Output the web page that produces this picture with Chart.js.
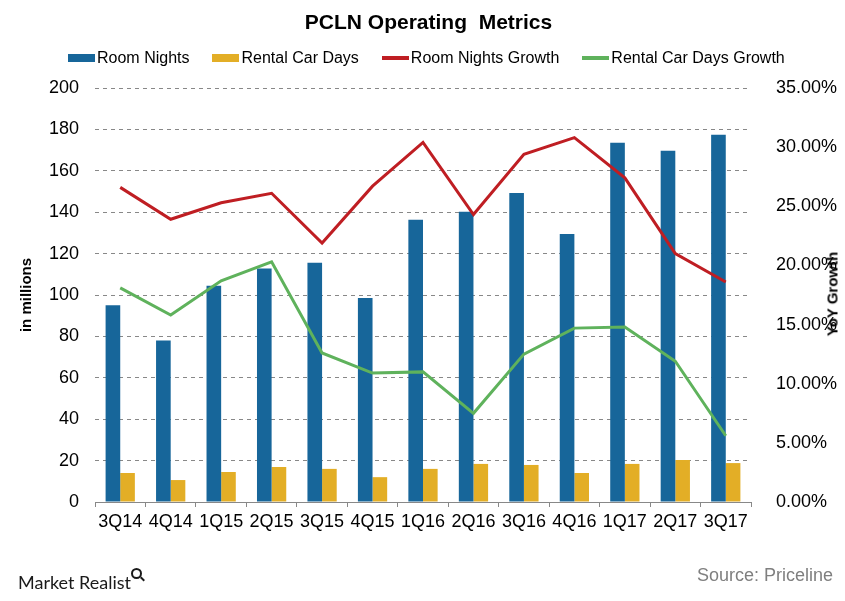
<!DOCTYPE html>
<html lang="en">
<head>
    <meta charset="UTF-8">
    <title>PCLN Operating Metrics</title>
    <script src="https://cdn.jsdelivr.net/npm/chart.js"></script>
    <style>
        body {
            margin: 0;
            background: white;
            font-family: "Liberation Sans", Arial, sans-serif;
        }
        .wrap {
            position: relative;
            width: 845px;
            height: 601px;
            overflow: hidden;
        }
        #chart {
            position: absolute;
            left: 0;
            top: 0;
        }
        .titulo {
            position: absolute;
            left: 0;
            top: 9px;
            width: 857px;
            text-align: center;
            font-size: 21px;
            line-height: 26px;
            font-weight: bold;
            white-space: pre;
        }
        .leyenda {
            position: absolute;
            left: 68px;
            top: 48px;
            display: flex;
            gap: 23px;
            font-size: 16px;
            line-height: 20px;
        }
        .leyenda span {
            display: flex;
            align-items: center;
            gap: 2px;
        }
        .leyenda i {
            display: inline-block;
            width: 27px;
        }
        .eje-der {
            position: absolute;
            left: 832px;
            top: 294px;
            transform: translate(-50%, -50%) rotate(-90deg);
            font-size: 15px;
            font-weight: bold;
            white-space: nowrap;
        }
        .marca {
            position: absolute;
            left: 18px;
            top: 571px;
            font-family: Lato, "Open Sans", sans-serif;
            font-size: 18px;
            color: #1a1a1a;
        }
        .lupa {
            position: absolute;
            left: 131px;
            top: 568px;
            width: 7px;
            height: 7px;
            border: 2px solid #1a1a1a;
            border-radius: 50%;
        }
        .lupa::after {
            content: "";
            position: absolute;
            left: 7px;
            top: 8px;
            width: 5px;
            height: 2px;
            background: #1a1a1a;
            transform: rotate(45deg);
        }
        .fuente {
            position: absolute;
            right: 12px;
            top: 565px;
            font-size: 18px;
            color: #7f7f7f;
        }
    </style>
</head>
<body>
    <div class="wrap">
        <canvas id="chart" width="845" height="601"></canvas>
        <div class="titulo">PCLN Operating  Metrics</div>
        <div class="leyenda">
            <span><i style="height:8px;background:#17669a"></i>Room Nights</span>
            <span><i style="height:8px;background:#e3ae26"></i>Rental Car Days</span>
            <span><i style="height:4px;background:#bf1e23"></i>Room Nights Growth</span>
            <span><i style="height:4px;background:#5fb25c"></i>Rental Car Days Growth</span>
        </div>
        <div class="eje-der">YoY Growth</div>
        <div class="marca">Market Realist</div>
        <div class="lupa"></div>
        <div class="fuente">Source: Priceline</div>
    </div>

    <script>
        // Datos
        const trimestres = ['3Q14', '4Q14', '1Q15', '2Q15', '3Q15', '4Q15', '1Q16', '2Q16', '3Q16', '4Q16', '1Q17', '2Q17', '3Q17'];
        const roomNights = [95, 78, 104.5, 112.8, 115.6, 98.6, 136.3, 140.2, 149.3, 129.5, 173.5, 169.7, 177.4];
        const rentalCarDays = [14, 10.6, 14.5, 16.9, 16, 12, 16, 18.4, 17.9, 14, 18.4, 20.3, 18.8];
        const roomNightsGrowth = [26.6, 23.9, 25.3, 26.1, 21.9, 26.7, 30.4, 24.3, 29.4, 30.8, 27.4, 21.0, 18.6];
        const rentalCarDaysGrowth = [18.1, 15.8, 18.7, 20.3, 12.6, 10.9, 11.0, 7.5, 12.5, 14.7, 14.8, 11.9, 5.6];

        const fuenteEjes = { family: '"Liberation Sans", Arial, sans-serif', size: 18 };

        const ctx = document.getElementById('chart').getContext('2d');
        new Chart(ctx, {
            data: {
                labels: trimestres,
                datasets: [
                    {
                        type: 'line',
                        label: 'Room Nights Growth',
                        data: roomNightsGrowth,
                        yAxisID: 'yDer',
                        borderColor: '#bf1e23',
                        backgroundColor: '#bf1e23',
                        borderWidth: 3,
                        pointRadius: 0,
                        tension: 0,
                        order: 0
                    },
                    {
                        type: 'line',
                        label: 'Rental Car Days Growth',
                        data: rentalCarDaysGrowth,
                        yAxisID: 'yDer',
                        borderColor: '#5fb25c',
                        backgroundColor: '#5fb25c',
                        borderWidth: 3,
                        pointRadius: 0,
                        tension: 0,
                        order: 0
                    },
                    {
                        type: 'bar',
                        label: 'Room Nights',
                        data: roomNights,
                        yAxisID: 'y',
                        backgroundColor: '#17669a',
                        categoryPercentage: 0.58,
                        barPercentage: 1,
                        order: 1
                    },
                    {
                        type: 'bar',
                        label: 'Rental Car Days',
                        data: rentalCarDays,
                        yAxisID: 'y',
                        backgroundColor: '#e3ae26',
                        categoryPercentage: 0.58,
                        barPercentage: 1,
                        order: 1
                    }
                ]
            },
            options: {
                responsive: false,
                animation: false,
                layout: {
                    padding: { top: 88, bottom: 0, left: 0, right: 0 }
                },
                plugins: {
                    legend: { display: false },
                    title: { display: false },
                    tooltip: { enabled: false }
                },
                scales: {
                    x: {
                        afterFit: (scale) => { scale.height = 99; },
                        grid: {
                            offset: true,
                            drawOnChartArea: false,
                            color: '#888',
                            tickLength: 5
                        },
                        border: { color: '#888' },
                        ticks: {
                            color: '#000',
                            font: fuenteEjes,
                            padding: 4,
                            maxRotation: 0,
                            autoSkip: false
                        }
                    },
                    y: {
                        position: 'left',
                        min: 0,
                        max: 200,
                        afterFit: (scale) => { scale.width = 95; },
                        grid: {
                            color: '#888',
                            drawTicks: false
                        },
                        border: { display: false, dash: [4, 4] },
                        ticks: {
                            stepSize: 20,
                            color: '#000',
                            font: fuenteEjes,
                            padding: 16
                        },
                        title: {
                            display: true,
                            text: 'in millions',
                            color: '#000',
                            font: { family: '"Liberation Sans", Arial, sans-serif', size: 15, weight: 'bold' },
                            padding: { top: 18, bottom: 0 }
                        }
                    },
                    yDer: {
                        position: 'right',
                        min: 0,
                        max: 35,
                        afterFit: (scale) => { scale.width = 94; },
                        grid: { display: false },
                        border: { display: false },
                        ticks: {
                            stepSize: 5,
                            color: '#000',
                            font: fuenteEjes,
                            padding: 17,
                            callback: (v) => v.toFixed(2) + '%'
                        }
                    }
                }
            }
        });
    </script>
</body>
</html>
